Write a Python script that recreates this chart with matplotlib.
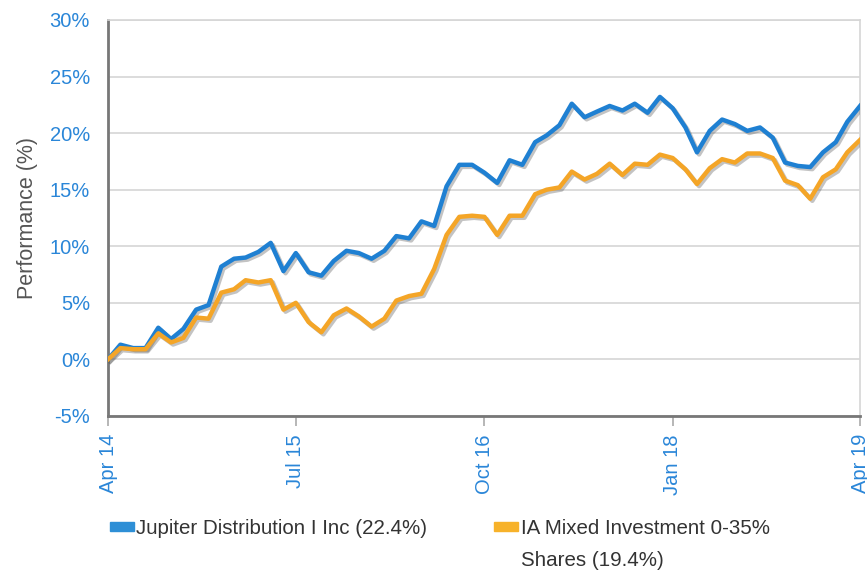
import numpy as np
import pandas as pd
import matplotlib
matplotlib.use("Agg")
import matplotlib.pyplot as plt
import matplotlib.patheffects as pe
from matplotlib.patches import Rectangle

# monthly cumulative performance (%), Apr 2014 - Apr 2019
dates = pd.date_range("2014-04-01", periods=61, freq="MS")
jupiter = [0.0, 1.3, 1.0, 1.0, 2.8, 1.8, 2.7, 4.4, 4.8, 8.2,
           8.9, 9.0, 9.5, 10.3, 7.8, 9.4, 7.7, 7.4, 8.7, 9.6,
           9.4, 8.9, 9.6, 10.9, 10.7, 12.2, 11.8, 15.3, 17.2, 17.2,
           16.5, 15.6, 17.6, 17.2, 19.2, 19.8, 20.7, 22.6, 21.4, 21.9,
           22.4, 22.0, 22.6, 21.8, 23.2, 22.2, 20.5, 18.3, 20.2, 21.2,
           20.8, 20.2, 20.5, 19.6, 17.4, 17.1, 17.0, 18.3, 19.2, 21.0,
           22.4]
ia_mixed = [0.0, 1.0, 0.9, 0.9, 2.3, 1.5, 1.9, 3.7, 3.6, 5.9,
            6.2, 7.0, 6.8, 7.0, 4.4, 5.0, 3.3, 2.4, 3.9, 4.5,
            3.8, 2.9, 3.6, 5.2, 5.6, 5.8, 8.0, 11.0, 12.6, 12.7,
            12.6, 11.0, 12.7, 12.7, 14.6, 15.0, 15.2, 16.6, 15.9, 16.4,
            17.3, 16.3, 17.3, 17.2, 18.1, 17.8, 16.8, 15.5, 16.9, 17.7,
            17.4, 18.2, 18.2, 17.8, 15.8, 15.4, 14.2, 16.1, 16.8, 18.3,
            19.4]
tick_dates = pd.to_datetime(["2014-04-01", "2015-07-01", "2016-10-01", "2018-01-01", "2019-04-01"])
tick_labels = ["Apr 14", "Jul 15", "Oct 16", "Jan 18", "Apr 19"]
yticks = [-5, 0, 5, 10, 15, 20, 25, 30]

blue = "#1f80d2"
orange = "#f4a527"
label_blue = "#2a86d8"

plt.rcParams["font.family"] = ["Liberation Sans", "DejaVu Sans"]

fig = plt.figure(figsize=(8.67, 5.71), dpi=100)
ax = fig.add_axes([0.1246, 0.2715, 0.8674, 0.6935])

shadow = [pe.SimpleLineShadow(offset=(1.5, -1.5), alpha=0.35, shadow_color="#555555"), pe.Normal()]
ax.plot(dates, jupiter, color=blue, lw=3.2, path_effects=shadow, zorder=3)
ax.plot(dates, ia_mixed, color=orange, lw=3.2, path_effects=shadow, zorder=3)

ax.set_xlim(dates[0], dates[-1])
ax.set_ylim(-5, 30)
ax.set_yticks(yticks)
ax.set_yticklabels([f"{v}%" for v in yticks])
ax.set_xticks(tick_dates)
ax.set_xticklabels(tick_labels, rotation=90)
ax.grid(axis="y", color="#d6d6d6", lw=1.2)
ax.set_axisbelow(True)

ax.tick_params(axis="y", length=0, pad=13, labelsize=14.5, labelcolor=label_blue)
ax.tick_params(axis="x", length=7, width=1.2, color="#aaaaaa", pad=6, labelsize=14.5, labelcolor=label_blue)

for s in ["left", "bottom"]:
    ax.spines[s].set_color("#777777")
    ax.spines[s].set_linewidth(2)
for s in ["top", "right"]:
    ax.spines[s].set_color("#d6d6d6")
    ax.spines[s].set_linewidth(1.2)

ax.set_ylabel("Performance (%)", fontsize=15.5, color="#555555", labelpad=8)

# legend drawn by hand to match the two-column wrapped layout
leg_font = dict(fontsize=14.8, color="#333333", va="center")
fig.patches.append(Rectangle((110 / 867, 1 - 531 / 571), 24 / 867, 9 / 571,
                             transform=fig.transFigure, color="#2e8fd6"))
fig.text(136 / 867, 1 - 528 / 571, "Jupiter Distribution I Inc (22.4%)", **leg_font)
fig.patches.append(Rectangle((494 / 867, 1 - 531 / 571), 24 / 867, 9 / 571,
                             transform=fig.transFigure, color="#f7b22a"))
fig.text(521 / 867, 1 - 528 / 571, "IA Mixed Investment 0-35%", **leg_font)
fig.text(521 / 867, 1 - 561 / 571, "Shares (19.4%)", **leg_font)

fig.savefig("out.png", dpi=100)
